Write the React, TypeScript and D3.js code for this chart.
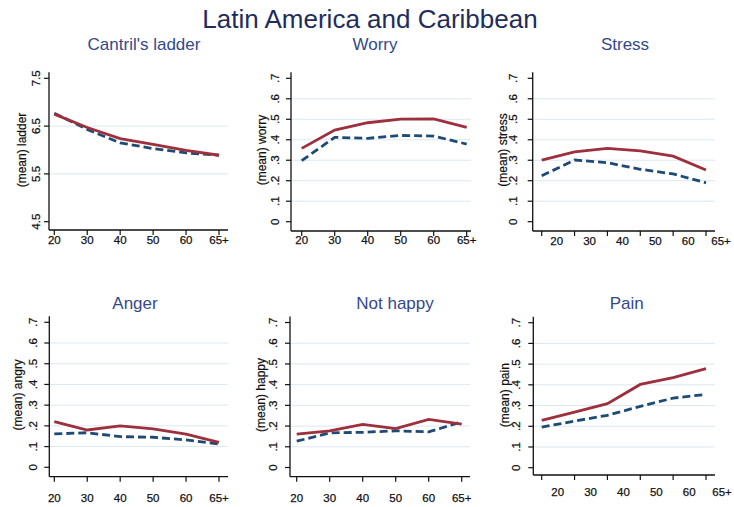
import React from "react";
import * as d3 from "d3";

// Age groups along every x axis
const AGE_GROUPS = ["20", "30", "40", "50", "60", "65+"];

// Mean values by age group; series 1 solid, series 2 dashed
const ladder1 = [6.75, 6.47, 6.24, 6.12, 5.99, 5.89];
const ladder2 = [6.77, 6.43, 6.15, 6.03, 5.94, 5.89];
const worry1 = [0.358, 0.447, 0.483, 0.501, 0.502, 0.46];
const worry2 = [0.298, 0.412, 0.407, 0.421, 0.418, 0.379];
const stress1 = [0.301, 0.341, 0.358, 0.346, 0.32, 0.252];
const stress2 = [0.224, 0.301, 0.288, 0.256, 0.233, 0.19];
const anger1 = [0.22, 0.18, 0.2, 0.185, 0.16, 0.12];
const anger2 = [0.161, 0.167, 0.148, 0.145, 0.132, 0.113];
const notHappy1 = [0.161, 0.177, 0.208, 0.188, 0.232, 0.209];
const notHappy2 = [0.127, 0.167, 0.17, 0.177, 0.172, 0.22];
const pain1 = [0.228, 0.268, 0.309, 0.402, 0.435, 0.478];
const pain2 = [0.196, 0.225, 0.253, 0.296, 0.336, 0.354];

// Y axis ticks
const LADDER_TICKS = [4.5, 5.5, 6.5, 7.5];
const LADDER_TICK_LABELS = ["4.5", "5.5", "6.5", "7.5"];
const SHARE_TICKS = [0, 0.1, 0.2, 0.3, 0.4, 0.5, 0.6, 0.7];
const SHARE_TICK_LABELS = ["0", ".1", ".2", ".3", ".4", ".5", ".6", ".7"];

const MAIN_TITLE = "Latin America and Caribbean";

const RED = "#9e2f3c";
const BLUE = "#1e4a74";
const GRID = "#dce8ef";

type Layout = {
  axisX: number; right: number; yTop: number; yBottom: number; axisBottom: number;
  x0: number; x1: number; labelOffset: number; xLabelY: number;
  yTickX: number; yTitleX: number; titleX: number; titleY: number;
};

const panels = [
  {
    title: "Cantril's ladder", yTitle: "(mean) ladder", s1: ladder1, s2: ladder2,
    domain: [4.5, 7.5], ticks: LADDER_TICKS, tickLabels: LADDER_TICK_LABELS,
    layout: { axisX: 49, right: 228, yTop: 78.3, yBottom: 221.7, axisBottom: 230, x0: 54.3, x1: 219, labelOffset: 0, xLabelY: 240, yTickX: 36, yTitleX: 21.7, titleX: 144, titleY: 44 },
  },
  {
    title: "Worry", yTitle: "(mean) worry", s1: worry1, s2: worry2,
    domain: [0, 0.7], ticks: SHARE_TICKS, tickLabels: SHARE_TICK_LABELS,
    layout: { axisX: 291, right: 471, yTop: 78.3, yBottom: 221.7, axisBottom: 231, x0: 301.7, x1: 466.7, labelOffset: 0, xLabelY: 239.5, yTickX: 274.5, yTitleX: 261.7, titleX: 375, titleY: 44 },
  },
  {
    title: "Stress", yTitle: "(mean) stress", s1: stress1, s2: stress2,
    domain: [0, 0.7], ticks: SHARE_TICKS, tickLabels: SHARE_TICK_LABELS,
    layout: { axisX: 532.7, right: 715, yTop: 78.3, yBottom: 221.7, axisBottom: 231, x0: 541.7, x1: 706, labelOffset: 15, xLabelY: 240.7, yTickX: 513.3, yTitleX: 503, titleX: 625, titleY: 44 },
  },
  {
    title: "Anger", yTitle: "(mean) angry", s1: anger1, s2: anger2,
    domain: [0, 0.7], ticks: SHARE_TICKS, tickLabels: SHARE_TICK_LABELS,
    layout: { axisX: 49.3, right: 228, yTop: 322.3, yBottom: 467.3, axisBottom: 476.7, x0: 54.3, x1: 219, labelOffset: 0, xLabelY: 498.3, yTickX: 33.3, yTitleX: 18.3, titleX: 135, titleY: 303.3 },
  },
  {
    title: "Not happy", yTitle: "(mean) happy", s1: notHappy1, s2: notHappy2,
    domain: [0, 0.7], ticks: SHARE_TICKS, tickLabels: SHARE_TICK_LABELS,
    layout: { axisX: 290, right: 470, yTop: 322.5, yBottom: 467.5, axisBottom: 476.7, x0: 296.7, x1: 461.7, labelOffset: 0, xLabelY: 498.3, yTickX: 273.3, yTitleX: 260.7, titleX: 395, titleY: 303.3 },
  },
  {
    title: "Pain", yTitle: "(mean) pain", s1: pain1, s2: pain2,
    domain: [0, 0.7], ticks: SHARE_TICKS, tickLabels: SHARE_TICK_LABELS,
    layout: { axisX: 533.3, right: 715, yTop: 322.7, yBottom: 467.7, axisBottom: 475, x0: 541.7, x1: 706, labelOffset: 16, xLabelY: 491.7, yTickX: 515.7, yTitleX: 505, titleX: 626.7, titleY: 303.3 },
  },
];

const FONT = "Arial, 'Liberation Sans', sans-serif";

function Panel({ p }: { p: (typeof panels)[number] }) {
  const L: Layout = p.layout;
  const x = d3.scalePoint<string>().domain(AGE_GROUPS).range([L.x0, L.x1]);
  const y = d3.scaleLinear().domain(p.domain).range([L.yBottom, L.yTop]);
  const line = d3
    .line<number>()
    .x((_, i) => x(AGE_GROUPS[i]) as number)
    .y((d) => y(d));
  const axisTop = L.yTop - 6;
  const yMid = (L.yTop + L.yBottom) / 2;
  return (
    <g>
      <text x={L.titleX} y={L.titleY} textAnchor="middle" dominantBaseline="central"
        fontFamily={FONT} fontSize={17} fill="#34498a">{p.title}</text>
      {/* gridlines on inner ticks */}
      {p.ticks.slice(1, -1).map((t) => (
        <line key={"g" + t} x1={L.axisX} x2={L.right} y1={y(t)} y2={y(t)} stroke={GRID} strokeWidth={1} />
      ))}
      {/* y axis */}
      <line x1={L.axisX} x2={L.axisX} y1={axisTop} y2={L.axisBottom} stroke="#111" strokeWidth={1.3} />
      {p.ticks.map((t, i) => (
        <g key={"yt" + t}>
          <line x1={L.axisX - 5} x2={L.axisX} y1={y(t)} y2={y(t)} stroke="#111" strokeWidth={1.2} />
          <text transform={`translate(${L.yTickX},${y(t)}) rotate(-90)`} textAnchor="middle"
            dominantBaseline="central" fontFamily={FONT} fontSize={11.5} fill="#111"
            stroke="#111" strokeWidth={0.25}>{p.tickLabels[i]}</text>
        </g>
      ))}
      <text transform={`translate(${L.yTitleX},${yMid}) rotate(-90)`} textAnchor="middle"
        dominantBaseline="central" fontFamily={FONT} fontSize={12} fill="#111"
        stroke="#111" strokeWidth={0.2}>{p.yTitle}</text>
      {/* x axis */}
      <line x1={L.axisX} x2={L.right} y1={L.axisBottom} y2={L.axisBottom} stroke="#111" strokeWidth={1.3} />
      {AGE_GROUPS.map((g) => (
        <g key={"xt" + g}>
          <line x1={x(g)} x2={x(g)} y1={L.axisBottom} y2={L.axisBottom + 5} stroke="#111" strokeWidth={1.2} />
          <text x={(x(g) as number) + L.labelOffset} y={L.xLabelY} textAnchor="middle" dominantBaseline="central"
            fontFamily={FONT} fontSize={11.5} fill="#111" stroke="#111" strokeWidth={0.25}>{g}</text>
        </g>
      ))}
      {/* series */}
      <path d={line(p.s2) || ""} fill="none" stroke={BLUE} strokeWidth={2.8} strokeDasharray="8,4" />
      <path d={line(p.s1) || ""} fill="none" stroke={RED} strokeWidth={2.8} />
    </g>
  );
}

export default function App() {
  return (
    <svg width={734} height={507} viewBox="0 0 734 507"
      style={{ position: "absolute", left: 0, top: 0, background: "#fff", display: "block" }}>
      <rect width={734} height={507} fill="#fff" />
      <text x={370} y={19} textAnchor="middle" dominantBaseline="central"
        fontFamily={FONT} fontSize={26} fill="#1f2d5c">{MAIN_TITLE}</text>
      {panels.map((p) => (
        <Panel key={p.title} p={p} />
      ))}
    </svg>
  );
}
